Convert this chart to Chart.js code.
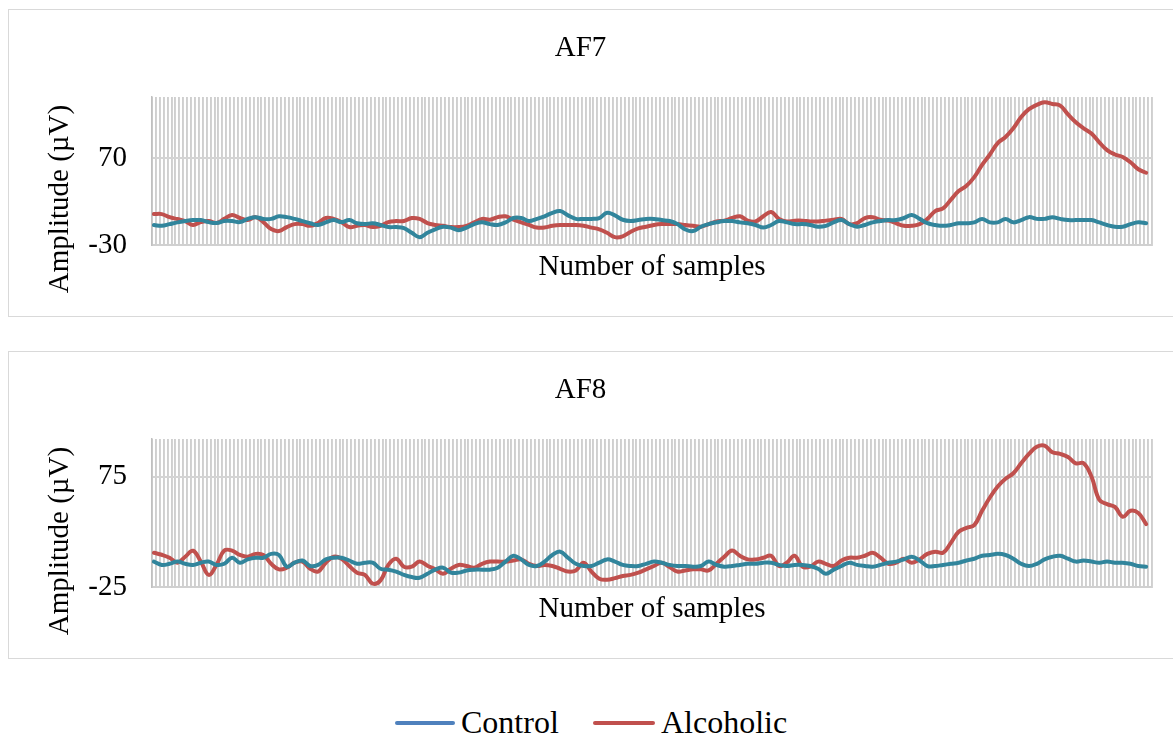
<!DOCTYPE html>
<html><head><meta charset="utf-8">
<script src="https://cdn.jsdelivr.net/npm/chart.js@4.4.0/dist/chart.umd.min.js"></script>
<style>
html,body{margin:0;padding:0;background:#fff;overflow:hidden;width:1173px;height:738px;position:relative;}
.box{position:absolute;left:8px;width:1170px;height:306px;border:1px solid #d9d9d9;}
.box canvas{position:absolute;left:0;top:0;}
#box1{top:9px;} #box2{top:351px;}
.leg{position:absolute;font-family:"Liberation Serif","Times New Roman",serif;font-size:32px;line-height:32px;color:#000;white-space:nowrap;}
.sw{position:absolute;height:4px;border-radius:2px;}
</style></head><body>
<div class="box" id="box1"><canvas id="c1" width="1170" height="306"></canvas></div>
<div class="box" id="box2"><canvas id="c2" width="1170" height="306"></canvas></div>
<div class="sw" style="left:395px;top:721px;width:60px;background:#4f81bd;"></div>
<div class="leg" style="left:461px;top:706px;">Control</div>
<div class="sw" style="left:593px;top:721px;width:62px;background:#c0504d;"></div>
<div class="leg" style="left:661px;top:706px;">Alcoholic</div>
<script>
// sample number of each plotted value (every 2nd of 256 samples)
const sampleStep = 2;
const sampleCount = 256;
const seriesNames = ['Control', 'Alcoholic'];

const af7Control = [
-7,-8,-6,-4,-2.5,-1.4,-1.4,-3.7,-4.8,-2.5,-2.5,-3.7,0,2,0,0,
3,2,0,-2.5,-5,-7,-4,-1.4,-3.7,-1.4,-5,-6,-5,-7,-9.4,-9.4,
-10.5,-16,-21,-16,-12,-9,-10,-13,-10,-6,-4,-6,-7,-4,1,1,
-2.5,0,3,7,9,4,0,0,0,1,7,4,-1,-2.5,-1.4,0,
0,-1.4,-2.5,-6,-12,-14,-9,-6,-4,-2.5,-2.5,-4,-5,-7,-10,-7,
-2.5,-4,-6,-6,-7,-9,-8,-4,-1.4,-6,-9,-7,-4,-2.5,-1.4,-1.4,
1,4.5,0,-5,-7,-8,-7,-5,-5,-4,0,-4,-4,0,-4,-1.4,
2,0,0,2,0,-1.4,-1.4,-1.4,-1.4,-4,-7,-9,-9,-6,-4,-5
];
const af7Alcoholic = [
5.5,5.5,2,-0.2,-2.5,-7,-3.7,-2.5,-4.8,0,4.5,1,-1.4,2,-3.7,-11.7,
-14,-9.4,-6,-6,-8,-4.8,1,0,-3.7,-9.4,-8,-7,-9.4,-8,-3.7,-2.5,
-2.5,1,0,-4.8,-7,-8,-9.4,-9.4,-8,-4,0,-1,2,3,-1,-4,
-7,-10,-10,-8,-7,-7,-7,-8,-10,-12,-16,-21,-20,-15,-11,-9,
-7,-6,-6,-6,-7,-8,-9,-6,-3,-2,1,3,-2,-3,3,8,
0,-3,-2,-2,-3,-3,-2,-1,0,-6,-5,1,2,-1,-2,-5,
-8,-8,-6,0,9,12,22,32,38,48,62,74,87,94,104,117,
126,131,134,132,130,120,111,104,98,88,79,74,71,65,57,53
];
const af8Control = [
-2,-5,-4,-2,-4,-5,-3,-2,-5,-4,1.5,-3,0,1.5,1.5,5,
4,-6.6,-3,-1,-6,-5,0,1.5,1.5,-1,-4,-3,-3,-8.5,-9.3,-11,
-14,-16,-16.6,-13,-9.3,-7.5,-12,-12,-10,-9.3,-9.3,-9.3,-7.5,-2,3.3,0,
-5,-6,-2,4,7,1.5,-4,-6,-6,-3,0,-2,-5,-6,-6,-4,
-2,-3,-5,-6,-6,-6.6,-6,-2,-5,-6.6,-6,-5,-4,-4,-3,-3,
-5,-6,-5,-5,-6,-8.5,-13,-9.3,-6,-3,-5,-6,-6.6,-5,-3,-2,
0,2.4,-1,-6,-6,-5,-4,-3,-1,0.6,3.3,4,5,4,0.6,-4,
-6,-4,0,2.4,3.3,0.6,-2,-1,-2,-3,-2,-3,-3,-4,-6,-6.6
];
const af8Alcoholic = [
6,4.2,1.5,-3,2.4,7.8,-2,-14,-5,8,8,4,2.4,5,4,-4,
-9,-7.5,-3,-2,-8.5,-11,-3,2.4,0.6,-6,-12,-14,-22,-19,-5,0.6,
-6.6,-6.6,-2,-5.7,-9,-13,-8.5,-5,-6,-7.5,-4,-2,-2,-2,-1,0,
-4,-6,-5,-6,-8.5,-11,-10,-3,-11,-17.5,-18.4,-17,-15,-14,-12,-9,
-6,-3,-7,-11,-10,-9,-9,-10,-4,2.4,8,3.3,0,0,1.5,3.3,
-6,-3,3.3,-6.6,-6.6,-2,-4,-6,-1,1.5,1.5,3.3,6,1.5,-4,-3,
0.6,-3,0,5,7,6,15,25,28.5,31,44,56,66,73,78,87,
95.5,102,103,97,95.5,92.7,87,87,75,54,50,47.5,38.6,44,42,32
];

const af7Y = {min: -30, max: 140, ticks: [-30, 70]};
const af8Y = {min: -25, max: 109, ticks: [-25, 75]};

const FONT = '"Liberation Serif", "Times New Roman", serif';
const TEAL = '#31859c', RED = '#c0504d';

const yTitlePlugin = {
  id: 'yTitle',
  afterDraw(chart, args, o) {
    const ctx = chart.ctx;
    ctx.save();
    ctx.translate(o.x, o.y);
    ctx.rotate(-Math.PI / 2);
    ctx.font = o.font;
    ctx.fillStyle = o.color;
    ctx.textAlign = 'center';
    ctx.textBaseline = 'middle';
    ctx.fillText(o.text, 0, 0);
    ctx.restore();
  }
};

function toPoints(vals) {
  return vals.map((v, k) => ({x: k * sampleStep, y: v}));
}

function makeChart(id, title, ctrl, alc, yCfg) {
  new Chart(document.getElementById(id), {
    type: 'line',
    data: {
      datasets: [
        {label: seriesNames[0], data: toPoints(ctrl), borderColor: TEAL, backgroundColor: TEAL},
        {label: seriesNames[1], data: toPoints(alc), borderColor: RED, backgroundColor: RED}
      ]
    },
    plugins: [yTitlePlugin],
    options: {
      responsive: false,
      animation: false,
      events: [],
      layout: {padding: {left: 0, right: 27, top: 0, bottom: 0}},
      elements: {
        point: {radius: 0},
        line: {borderWidth: 4, tension: 0.4, borderCapStyle: 'round', borderJoinStyle: 'round'}
      },
      plugins: {
        legend: {display: false},
        tooltip: {enabled: false},
        title: {
          display: true, text: title, color: '#000',
          font: {family: FONT, size: 29, weight: 'normal'},
          padding: {top: 20.6, bottom: 31.6}
        },
        yTitle: {text: 'Amplitude (µV)', x: 51, y: 189, font: '29px ' + FONT, color: '#000'}
      },
      scales: {
        x: {
          type: 'linear',
          min: -0.5, max: sampleCount - 0.5,
          afterBuildTicks(s) {
            const t = [];
            for (let i = 0; i <= sampleCount; i++) t.push({value: i - 0.5});
            s.ticks = t;
          },
          afterFit(s) { s.height = 71; },
          ticks: {display: false, autoSkip: false},
          grid: {color: '#cfcfcf', lineWidth: 1.9, drawTicks: false},
          border: {display: true, color: '#d0d0d0', width: 2},
          title: {
            display: true, text: 'Number of samples', color: '#000',
            font: {family: FONT, size: 29, weight: 'normal'},
            padding: {top: 0, bottom: 31.6}
          }
        },
        y: {
          min: yCfg.min, max: yCfg.max,
          afterBuildTicks(s) { s.ticks = yCfg.ticks.map(v => ({value: v})); },
          afterFit(s) { s.width = 143; },
          ticks: {color: '#000', padding: 25, font: {family: FONT, size: 29}},
          grid: {color: '#d4d4d4', lineWidth: 2, drawTicks: false},
          border: {display: true, color: '#c0c0c0', width: 1.5}
        }
      }
    }
  });
}

makeChart('c1', 'AF7', af7Control, af7Alcoholic, af7Y);
makeChart('c2', 'AF8', af8Control, af8Alcoholic, af8Y);
</script>
</body></html>
